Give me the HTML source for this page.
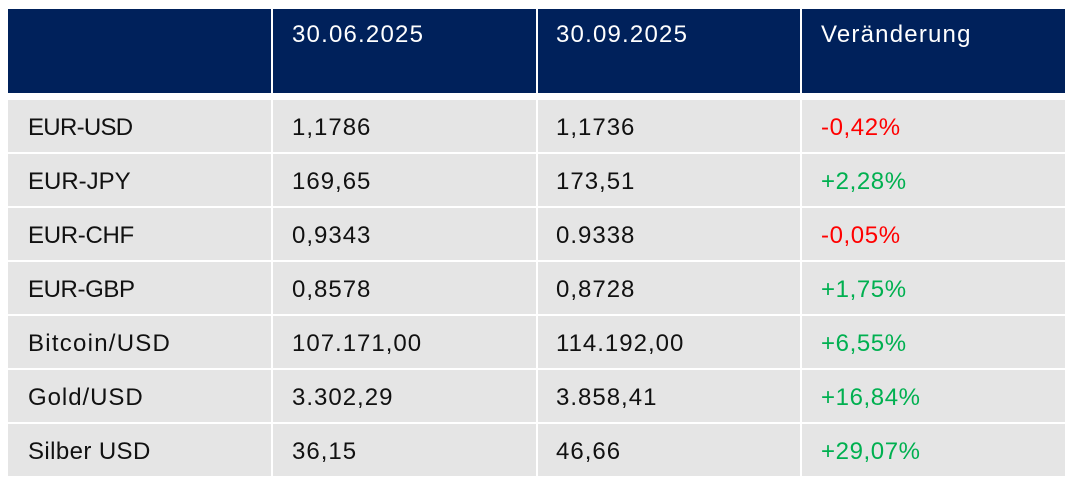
<!DOCTYPE html>
<html>
<head>
<meta charset="utf-8">
<style>
  html, body { margin:0; padding:0; background:#ffffff; }
  body { width:1073px; height:484px; position:relative; overflow:hidden;
         font-family:"Liberation Sans", Arial, sans-serif; font-size:24px; }
  .hdr { position:absolute; top:9px; height:84px; background:#00215B; }
  .cell { position:absolute; height:52px; background:#E5E5E5; }
  .t { position:absolute; line-height:28px; white-space:nowrap; color:#111; letter-spacing:1.0px; }
  .h { color:#ffffff; top:21px; letter-spacing:1.2px; }
  .red { color:#FF0000; letter-spacing:0.6px; }
  .grn { color:#00B050; letter-spacing:0.6px; }
</style>
</head>
<body>
  <!-- header -->
  <div class="hdr" style="left:8px;width:263px"></div>
  <div class="hdr" style="left:273px;width:263px"></div>
  <div class="hdr" style="left:538px;width:262px"></div>
  <div class="hdr" style="left:802px;width:263px"></div>
  <div class="t h" style="left:292px">30.06.2025</div>
  <div class="t h" style="left:556px">30.09.2025</div>
  <div class="t h" style="left:821px">Veränderung</div>

  <!-- row 1 -->
  <div class="cell" style="left:8px;top:100px;width:263px"></div>
  <div class="cell" style="left:273px;top:100px;width:263px"></div>
  <div class="cell" style="left:538px;top:100px;width:262px"></div>
  <div class="cell" style="left:802px;top:100px;width:263px"></div>
  <div class="t" style="left:28px;top:114px;letter-spacing:-0.7px">EUR-USD</div>
  <div class="t" style="left:292px;top:114px">1,1786</div>
  <div class="t" style="left:556px;top:114px">1,1736</div>
  <div class="t red" style="left:821px;top:114px">-0,42%</div>

  <!-- row 2 -->
  <div class="cell" style="left:8px;top:154px;width:263px"></div>
  <div class="cell" style="left:273px;top:154px;width:263px"></div>
  <div class="cell" style="left:538px;top:154px;width:262px"></div>
  <div class="cell" style="left:802px;top:154px;width:263px"></div>
  <div class="t" style="left:28px;top:168px;letter-spacing:0px">EUR-JPY</div>
  <div class="t" style="left:292px;top:168px">169,65</div>
  <div class="t" style="left:556px;top:168px">173,51</div>
  <div class="t grn" style="left:821px;top:168px">+2,28%</div>

  <!-- row 3 -->
  <div class="cell" style="left:8px;top:208px;width:263px"></div>
  <div class="cell" style="left:273px;top:208px;width:263px"></div>
  <div class="cell" style="left:538px;top:208px;width:262px"></div>
  <div class="cell" style="left:802px;top:208px;width:263px"></div>
  <div class="t" style="left:28px;top:222px;letter-spacing:-0.3px">EUR-CHF</div>
  <div class="t" style="left:292px;top:222px">0,9343</div>
  <div class="t" style="left:556px;top:222px">0.9338</div>
  <div class="t red" style="left:821px;top:222px">-0,05%</div>

  <!-- row 4 -->
  <div class="cell" style="left:8px;top:262px;width:263px"></div>
  <div class="cell" style="left:273px;top:262px;width:263px"></div>
  <div class="cell" style="left:538px;top:262px;width:262px"></div>
  <div class="cell" style="left:802px;top:262px;width:263px"></div>
  <div class="t" style="left:28px;top:276px;letter-spacing:-0.4px">EUR-GBP</div>
  <div class="t" style="left:292px;top:276px">0,8578</div>
  <div class="t" style="left:556px;top:276px">0,8728</div>
  <div class="t grn" style="left:821px;top:276px">+1,75%</div>

  <!-- row 5 -->
  <div class="cell" style="left:8px;top:316px;width:263px"></div>
  <div class="cell" style="left:273px;top:316px;width:263px"></div>
  <div class="cell" style="left:538px;top:316px;width:262px"></div>
  <div class="cell" style="left:802px;top:316px;width:263px"></div>
  <div class="t" style="left:28px;top:330px;letter-spacing:1.25px">Bitcoin/USD</div>
  <div class="t" style="left:292px;top:330px">107.171,00</div>
  <div class="t" style="left:556px;top:330px">114.192,00</div>
  <div class="t grn" style="left:821px;top:330px">+6,55%</div>

  <!-- row 6 -->
  <div class="cell" style="left:8px;top:370px;width:263px"></div>
  <div class="cell" style="left:273px;top:370px;width:263px"></div>
  <div class="cell" style="left:538px;top:370px;width:262px"></div>
  <div class="cell" style="left:802px;top:370px;width:263px"></div>
  <div class="t" style="left:28px;top:384px;letter-spacing:0.95px">Gold/USD</div>
  <div class="t" style="left:292px;top:384px">3.302,29</div>
  <div class="t" style="left:556px;top:384px">3.858,41</div>
  <div class="t grn" style="left:821px;top:384px">+16,84%</div>

  <!-- row 7 -->
  <div class="cell" style="left:8px;top:424px;width:263px"></div>
  <div class="cell" style="left:273px;top:424px;width:263px"></div>
  <div class="cell" style="left:538px;top:424px;width:262px"></div>
  <div class="cell" style="left:802px;top:424px;width:263px"></div>
  <div class="t" style="left:28px;top:438px;letter-spacing:0.4px">Silber USD</div>
  <div class="t" style="left:292px;top:438px">36,15</div>
  <div class="t" style="left:556px;top:438px">46,66</div>
  <div class="t grn" style="left:821px;top:438px">+29,07%</div>
</body>
</html>
